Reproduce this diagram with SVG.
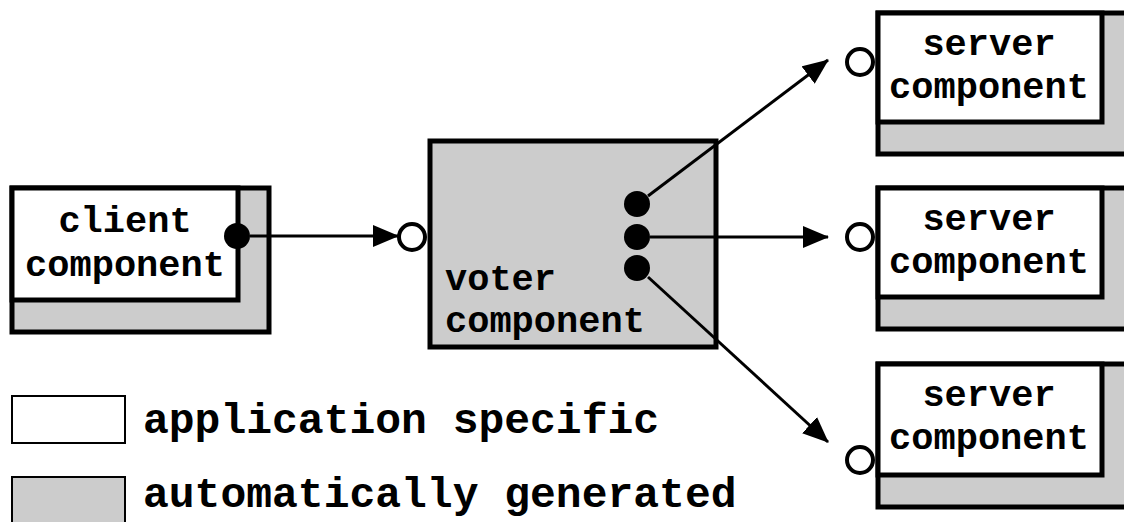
<svg xmlns="http://www.w3.org/2000/svg" width="1124" height="522" viewBox="0 0 1124 522">
  <style>
    .box { stroke: #000; stroke-width: 5; }
    .app { fill: #fff; }
    .gen { fill: #cccccc; }
    .lbl { font-family: "Liberation Mono", "Courier New", monospace; font-weight: bold; font-size: 37px; fill: #000; }
    .leg { font-family: "Liberation Mono", "Courier New", monospace; font-weight: bold; font-size: 43px; fill: #000; }
    .wire { stroke: #000; stroke-width: 3; fill: none; }
    .req { fill: #000; }
    .prov { fill: #fff; stroke: #000; stroke-width: 4; }
  </style>
  <defs>
    <marker id="arrow" markerUnits="userSpaceOnUse" markerWidth="26" markerHeight="22" refX="25" refY="11" orient="auto">
      <path d="M0,0 L26,11 L0,22 Z" fill="#000"/>
    </marker>
  </defs>

  <rect width="1124" height="522" fill="#fff"/>

  <g id="client">
    <rect class="box gen" x="12" y="188" width="257" height="144"/>
    <rect class="box app" x="12" y="188" width="226" height="112"/>
    <text class="lbl" x="125" y="232" text-anchor="middle">client</text>
    <text class="lbl" x="125" y="276" text-anchor="middle">component</text>
    <circle class="req" cx="237" cy="236" r="13"/>
  </g>

  <g id="voter">
    <rect class="box gen" x="430" y="141" width="286" height="206"/>
    <text class="lbl" x="445" y="290">voter</text>
    <text class="lbl" x="445" y="332">component</text>
    <circle class="prov" cx="412" cy="237" r="13"/>
    <circle class="req" cx="637" cy="204" r="13"/>
    <circle class="req" cx="637" cy="237" r="13"/>
    <circle class="req" cx="637" cy="268" r="13"/>
  </g>

  <g id="server-1">
    <rect class="box gen" x="878" y="13" width="260" height="141"/>
    <rect class="box app" x="878" y="13" width="224" height="109"/>
    <text class="lbl" x="989" y="55" text-anchor="middle">server</text>
    <text class="lbl" x="989" y="98" text-anchor="middle">component</text>
    <circle class="prov" cx="860" cy="62" r="13"/>
  </g>

  <g id="server-2">
    <rect class="box gen" x="878" y="188" width="260" height="141"/>
    <rect class="box app" x="878" y="188" width="224" height="109"/>
    <text class="lbl" x="989" y="230" text-anchor="middle">server</text>
    <text class="lbl" x="989" y="273" text-anchor="middle">component</text>
    <circle class="prov" cx="860" cy="237" r="13"/>
  </g>

  <g id="server-3">
    <rect class="box gen" x="878" y="364" width="260" height="143"/>
    <rect class="box app" x="878" y="364" width="224" height="111"/>
    <text class="lbl" x="989" y="406" text-anchor="middle">server</text>
    <text class="lbl" x="989" y="449" text-anchor="middle">component</text>
    <circle class="prov" cx="860" cy="460" r="13"/>
  </g>

  <g id="legend">
    <rect x="12" y="396" width="113" height="47" fill="#fff" stroke="#000" stroke-width="2"/>
    <text class="leg" x="143" y="433">application specific</text>
    <rect x="12" y="477" width="113" height="60" fill="#cccccc" stroke="#000" stroke-width="2"/>
    <text class="leg" x="143" y="507">automatically generated</text>
  </g>

  <!-- wires drawn last so they sit on top of the voter box -->
  <g id="connectors">
    <line class="wire" x1="250" y1="236" x2="398" y2="236" marker-end="url(#arrow)"/>
    <line class="wire" x1="648" y1="196" x2="828" y2="60" marker-end="url(#arrow)"/>
    <line class="wire" x1="650" y1="237" x2="828" y2="237" marker-end="url(#arrow)"/>
    <line class="wire" x1="648" y1="277" x2="828" y2="442" marker-end="url(#arrow)"/>
  </g>
</svg>
